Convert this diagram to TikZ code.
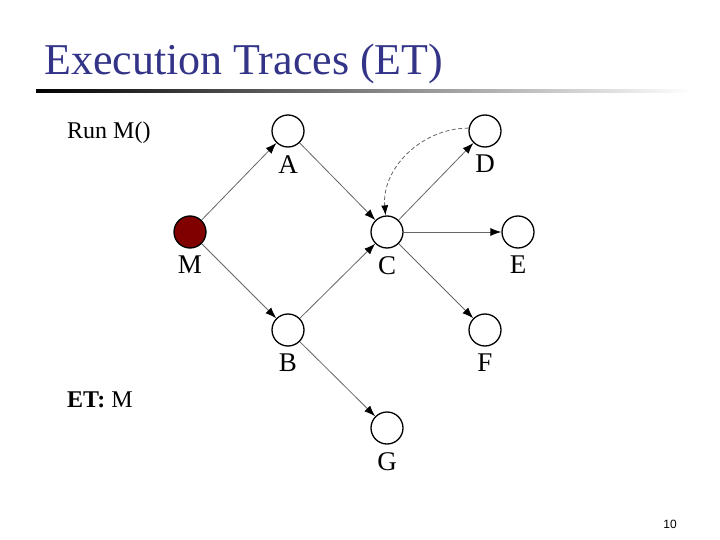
\documentclass[tikz,border=0pt]{standalone}
\usepackage{fontspec}
\setmainfont{Liberation Serif}
\newfontfamily\pgnum{Liberation Sans}
\usetikzlibrary{arrows.meta,shadings}
\definecolor{titleblue}{RGB}{51,51,136}
\definecolor{mred}{RGB}{128,0,0}
\begin{document}
\begin{tikzpicture}[x=1pt,y=-1pt,
  vert/.style={circle,draw=black,line width=1.3pt,minimum size=32pt,inner sep=0pt,fill=white},
  vlab/.style={font=\fontsize{27}{27}\selectfont,inner sep=0pt,anchor=north},
  edge/.style={draw=black!60,line width=0.8pt,-{Latex[length=11pt,width=8pt,black]}},
  dedge/.style={draw=black!60,line width=0.8pt,dashed,dash pattern=on 4pt off 2.5pt,-{Latex[length=10pt,width=7pt,black]}}]
\useasboundingbox (0,0) rectangle (720,540);
\node[anchor=base west,text=titleblue,font=\fontsize{44}{44}\selectfont,inner sep=0pt] (title) at (44,75) {Execution Traces (ET)};
\shade[left color=black,right color=white] (36,89.5) rectangle (692,92.5);
\node[anchor=base west,font=\fontsize{24}{24}\selectfont,inner sep=0pt] (run) at (67,139) {Run M()};
\node[anchor=base west,font=\fontsize{24}{24}\selectfont,inner sep=0pt] (et) at (67,407) {\textbf{ET:} M};
\node[anchor=base,font=\pgnum\fontsize{12}{12}\selectfont,inner sep=0pt] (pg) at (670,528) {10};
\node[vert] (A) at (288,131) {};
\node[vert] (D) at (485,131) {};
\node[vert,fill=mred] (M) at (190,232) {};
\node[vert] (C) at (387,232) {};
\node[vert] (E) at (518,232) {};
\node[vert] (B) at (288,330) {};
\node[vert] (F) at (485,330) {};
\node[vert] (G) at (387,428) {};
\foreach \n in {A,D,M,C,E,B,F,G}{\node[vlab] (l\n) at ([yshift=-24pt]\n.center) {\n};}
\draw[edge] (M) -- (A);
\draw[edge] (M) -- (B);
\draw[edge] (A) -- (C);
\draw[edge] (B) -- (C);
\draw[edge] (C) -- (D);
\draw[edge] (C) -- (E);
\draw[edge] (C) -- (F);
\draw[edge] (B) -- (G);
\draw[dedge] (D.170) to[out=180,in=95] (C.95);
\end{tikzpicture}
\end{document}
